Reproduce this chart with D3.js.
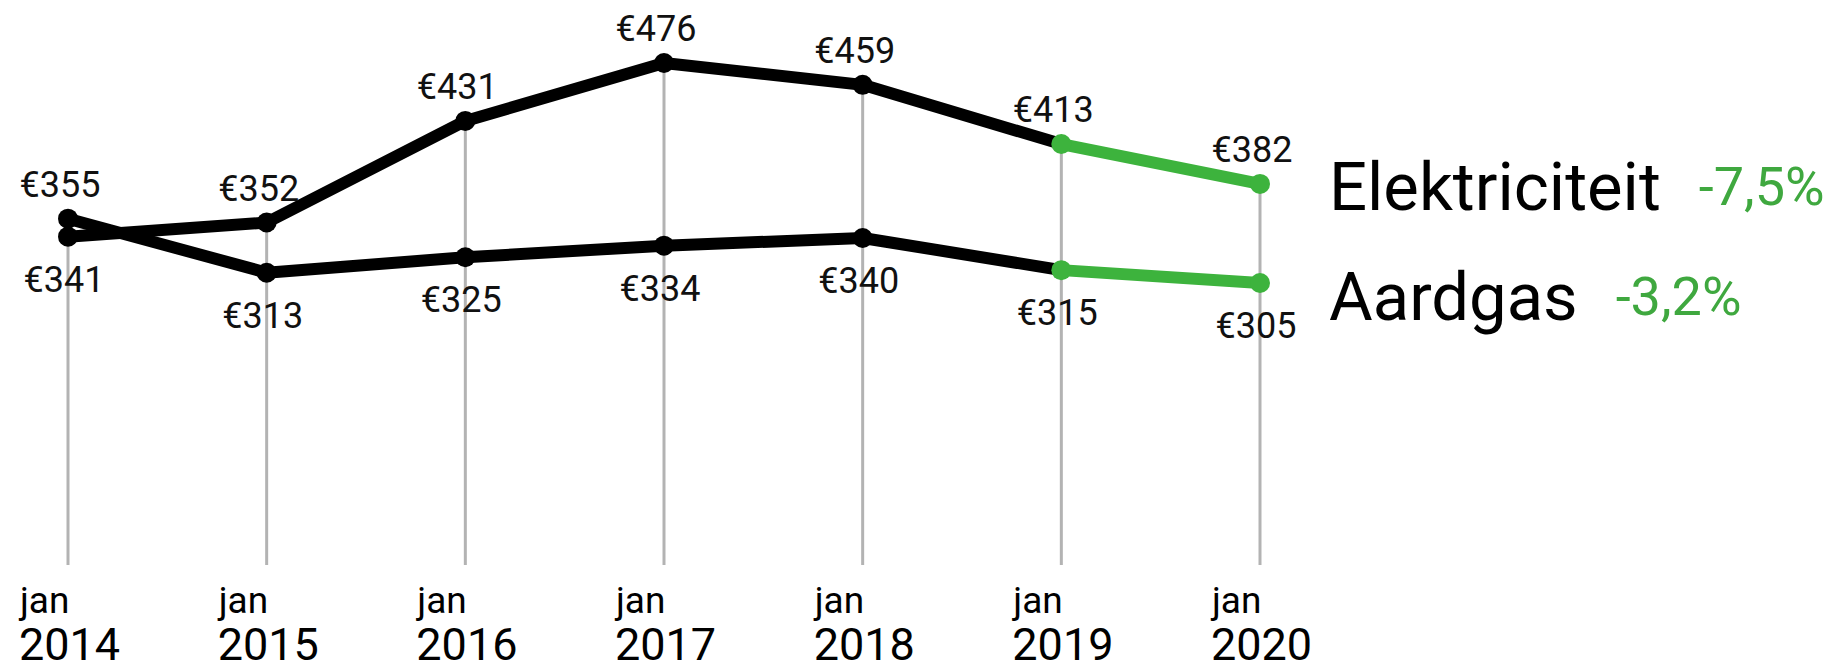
<!DOCTYPE html>
<html>
<head>
<meta charset="utf-8">
<script src="https://cdn.jsdelivr.net/npm/d3@7"></script>
<style>
  body { margin: 0; background: #fff; }
  text { font-family: Roboto, "Noto Sans", sans-serif; }
</style>
</head>
<body>
<svg></svg>
<script>
// ─── DATA ─────────────────────────────────────────────────────────────────────
// (the two lines cross between 2014 and 2015 in the original drawing)

const years = [2014, 2015, 2016, 2017, 2018, 2019, 2020];
const elektriciteit = [341, 352, 431, 476, 459, 413, 382];
const aardgas = [355, 313, 325, 334, 340, 315, 305];
const seriesNames = ["Elektriciteit", "Aardgas"];
const changes = ["-7,5%", "-3,2%"];

// ─── DIMENSIONS & SCALES ──────────────────────────────────────────────────────

const width = 1837,
  height = 670,
  black = "#000",
  green = "#3db33d",
  greenText = "#3fa83f",
  grid = "#b3b3b3";

const svg = d3.select("svg").attr("width", width).attr("height", height);

const x = d3.scalePoint().domain(years).range([68, 1260]);
const y = d3.scaleLinear().domain([305, 476]).range([283, 63]);
const gridBottom = 565;

const fmt = (v) => "€" + v;

// ─── GRID LINES (from top point down) ─────────────────────────────────────────

svg
  .append("g")
  .selectAll("line")
  .data(years)
  .join("line")
  .attr("x1", (d) => x(d))
  .attr("x2", (d) => x(d))
  .attr("y1", (d, i) => y(Math.max(elektriciteit[i], aardgas[i])))
  .attr("y2", gridBottom)
  .attr("stroke", grid)
  .attr("stroke-width", 3);

// ─── AXIS LABELS ──────────────────────────────────────────────────────────────

const ticks = svg.append("g").selectAll("g").data(years).join("g");

ticks
  .append("text")
  .attr("x", (d) => x(d) - 48)
  .attr("y", 613)
  .attr("font-size", 37)
  .text("jan");

ticks
  .append("text")
  .attr("x", (d) => x(d) - 49)
  .attr("y", 660)
  .attr("font-size", 45)
  .text((d) => d);

// ─── LINES & POINTS ───────────────────────────────────────────────────────────

const line = d3
  .line()
  .x((d) => x(d.year))
  .y((d) => y(d.value));

const series = [elektriciteit, aardgas].map((vals) =>
  vals.map((v, i) => ({ year: years[i], value: v }))
);

series.forEach((pts, s) => {
  const n = pts.length;
  const g = svg.append("g");
  g.append("path")
    .attr("d", line(pts.slice(0, n - 1)))
    .attr("fill", "none")
    .attr("stroke", black)
    .attr("stroke-width", 12)
    .attr("stroke-linejoin", "round");
  // last segment in green
  g.append("path")
    .attr("d", line(pts.slice(n - 2)))
    .attr("fill", "none")
    .attr("stroke", green)
    .attr("stroke-width", 12)
    .attr("stroke-linecap", "round");
  g.selectAll("circle")
    .data(pts)
    .join("circle")
    .attr("cx", (d) => x(d.year))
    .attr("cy", (d) => y(d.value))
    .attr("r", 10)
    .attr("fill", (d, i) => (i >= n - 2 ? green : black));
});

// ─── VALUE LABELS: highest value above, lowest below ──────────────────────────

const labels = svg.append("g").attr("font-size", 36).attr("fill", "#111");

years.forEach((yr, i) => {
  const hi = Math.max(elektriciteit[i], aardgas[i]);
  const lo = Math.min(elektriciteit[i], aardgas[i]);
  labels
    .append("text")
    .attr("x", x(yr) - 8)
    .attr("y", y(hi) - 22)
    .attr("text-anchor", "middle")
    .text(fmt(hi));
  labels
    .append("text")
    .attr("x", x(yr) - 4)
    .attr("y", y(lo) + 55)
    .attr("text-anchor", "middle")
    .text(fmt(lo));
});

// ─── LEGEND AT THE END OF EACH LINE ───────────────────────────────────────────

series.forEach((pts, s) => {
  const last = pts[pts.length - 1];
  const lx = x(last.year) + 69;
  const ly = y(last.value) + (s === 0 ? 26 : 37);
  const t = svg
    .append("text")
    .attr("x", lx)
    .attr("y", ly)
    .attr("font-size", 67)
    .attr("fill", black)
    .text(seriesNames[s]);
  const w = t.node().getComputedTextLength();
  svg
    .append("text")
    .attr("x", lx + w + 38)
    .attr("y", ly - 5)
    .attr("font-size", 54)
    .attr("fill", greenText)
    .text(changes[s]);
});
</script>
</body>
</html>
